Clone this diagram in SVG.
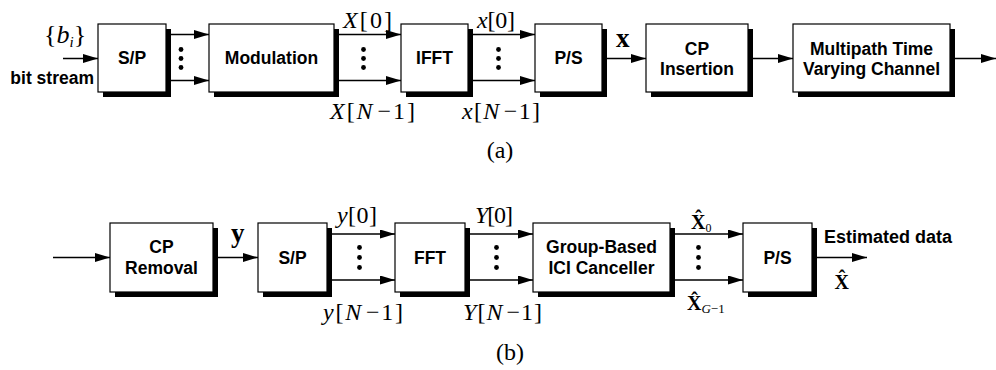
<svg xmlns="http://www.w3.org/2000/svg" width="996" height="370" viewBox="0 0 996 370">
<defs>
<marker id="ah" markerUnits="userSpaceOnUse" markerWidth="15" markerHeight="9" refX="15" refY="4.5" orient="auto">
<path d="M0,0 L15,4.5 L0,9 z" fill="#000"/>
</marker>
<style>
.box{fill:#fff;stroke:#000;stroke-width:1.2}
.sh{fill:#000}
.lbl{font-family:"Liberation Sans",Arial,sans-serif;font-weight:bold;font-size:17.5px;text-anchor:middle;fill:#000}
.side{font-family:"Liberation Sans",Arial,sans-serif;font-weight:bold;font-size:17.5px;fill:#000}
.m{font-family:"Liberation Serif","Times New Roman",serif;font-size:24px;fill:#000}
.mb{font-family:"Liberation Serif","Times New Roman",serif;font-weight:bold;font-size:20px;fill:#000}
.it{font-style:italic}
.conn line{stroke:#000;stroke-width:1.3;marker-end:url(#ah)}
.dot{fill:#000}
</style>
</defs>
<rect width="996" height="370" fill="#fff"/>

<g id="connectors" class="conn">
<line x1="63" y1="58.5" x2="98" y2="58.5"/>
<line x1="166" y1="34.5" x2="209" y2="34.5"/>
<line x1="166" y1="80.5" x2="209" y2="80.5"/>
<line x1="334" y1="34.5" x2="401" y2="34.5"/>
<line x1="334" y1="80.5" x2="401" y2="80.5"/>
<line x1="468" y1="34.5" x2="535" y2="34.5"/>
<line x1="468" y1="80.5" x2="535" y2="80.5"/>
<line x1="602" y1="58.5" x2="646" y2="58.5"/>
<line x1="748" y1="58.5" x2="793" y2="58.5"/>
<line x1="950" y1="58.5" x2="996" y2="58.5"/>

<line x1="53" y1="257.5" x2="110" y2="257.5"/>
<line x1="213" y1="257.5" x2="258" y2="257.5"/>
<line x1="327" y1="234" x2="395" y2="234"/>
<line x1="327" y1="280" x2="395" y2="280"/>
<line x1="465" y1="234" x2="533" y2="234"/>
<line x1="465" y1="280" x2="533" y2="280"/>
<line x1="670" y1="234" x2="743" y2="234"/>
<line x1="670" y1="280" x2="743" y2="280"/>
<line x1="812" y1="257.5" x2="867" y2="257.5"/>
</g>

<g id="dots">
<circle class="dot" cx="181" cy="49.5" r="2.4"/><circle class="dot" cx="181" cy="58.5" r="2.4"/><circle class="dot" cx="181" cy="67.5" r="2.4"/>
<circle class="dot" cx="363.5" cy="49.5" r="2.4"/><circle class="dot" cx="363.5" cy="58.5" r="2.4"/><circle class="dot" cx="363.5" cy="67.5" r="2.4"/>
<circle class="dot" cx="498.5" cy="49.5" r="2.4"/><circle class="dot" cx="498.5" cy="58.5" r="2.4"/><circle class="dot" cx="498.5" cy="67.5" r="2.4"/>
<circle class="dot" cx="359.5" cy="247.5" r="2.4"/><circle class="dot" cx="359.5" cy="257.5" r="2.4"/><circle class="dot" cx="359.5" cy="267.5" r="2.4"/>
<circle class="dot" cx="496.5" cy="247.5" r="2.4"/><circle class="dot" cx="496.5" cy="257.5" r="2.4"/><circle class="dot" cx="496.5" cy="267.5" r="2.4"/>
<circle class="dot" cx="698.5" cy="247.5" r="2.4"/><circle class="dot" cx="698.5" cy="257.5" r="2.4"/><circle class="dot" cx="698.5" cy="267.5" r="2.4"/>
</g>

<!-- top row nodes -->
<g id="sp1"><rect class="sh" x="103" y="29" width="68" height="68"/><rect class="box" x="98" y="24" width="68" height="68"/><text class="lbl" x="132" y="64">S/P</text></g>
<g id="modulation"><rect class="sh" x="214" y="29" width="125" height="68"/><rect class="box" x="209" y="24" width="125" height="68"/><text class="lbl" x="271.5" y="64">Modulation</text></g>
<g id="ifft"><rect class="sh" x="406" y="29" width="67" height="68"/><rect class="box" x="401" y="24" width="67" height="68"/><text class="lbl" x="434.5" y="64">IFFT</text></g>
<g id="ps1"><rect class="sh" x="540" y="29" width="67" height="68"/><rect class="box" x="535" y="24" width="67" height="68"/><text class="lbl" x="568.5" y="64">P/S</text></g>
<g id="cpins"><rect class="sh" x="651" y="29" width="102" height="68"/><rect class="box" x="646" y="24" width="102" height="68"/><text class="lbl" x="697" y="54.5">CP</text><text class="lbl" x="697" y="74.5">Insertion</text></g>
<g id="channel"><rect class="sh" x="798" y="29" width="157" height="68"/><rect class="box" x="793" y="24" width="157" height="68"/><text class="lbl" x="871.5" y="54.5">Multipath Time</text><text class="lbl" x="871.5" y="74.5">Varying Channel</text></g>

<!-- bottom row nodes -->
<g id="cprem"><rect class="sh" x="115" y="228" width="103" height="69"/><rect class="box" x="110" y="223" width="103" height="69"/><text class="lbl" x="161.5" y="253">CP</text><text class="lbl" x="161.5" y="273.5">Removal</text></g>
<g id="sp2"><rect class="sh" x="263" y="228" width="69" height="69"/><rect class="box" x="258" y="223" width="69" height="69"/><text class="lbl" x="292.5" y="263.5">S/P</text></g>
<g id="fft"><rect class="sh" x="400" y="228" width="70" height="69"/><rect class="box" x="395" y="223" width="70" height="69"/><text class="lbl" x="430" y="263.5">FFT</text></g>
<g id="ici"><rect class="sh" x="538" y="228" width="137" height="69"/><rect class="box" x="533" y="223" width="137" height="69"/><text class="lbl" x="601.5" y="253">Group-Based</text><text class="lbl" x="601.5" y="273.5">ICI Canceller</text></g>
<g id="ps2"><rect class="sh" x="748" y="228" width="69" height="69"/><rect class="box" x="743" y="223" width="69" height="69"/><text class="lbl" x="777.5" y="263.5">P/S</text></g>

<!-- labels -->
<g id="labels">
<text class="m" x="44" y="43" style="font-size:26px">{<tspan class="it">b</tspan><tspan class="it" style="font-size:15px" dy="4">i</tspan><tspan dy="-4">}</tspan></text>
<text class="side" x="94" y="83.5" text-anchor="end">bit stream</text>

<text class="m" x="343" y="28" textLength="49" lengthAdjust="spacing"><tspan class="it">X</tspan>[0]</text>
<text class="m" x="330" y="119" textLength="85" lengthAdjust="spacing"><tspan class="it">X</tspan>[<tspan class="it">N</tspan><tspan dx="3">−1]</tspan></text>
<text class="m" x="477" y="28" textLength="38" lengthAdjust="spacing"><tspan class="it">x</tspan>[0]</text>
<text class="m" x="462" y="119" textLength="78" lengthAdjust="spacing"><tspan class="it">x</tspan>[<tspan class="it">N</tspan><tspan dx="3">−1]</tspan></text>
<text class="mb" x="616" y="46.5" style="font-size:27px">x</text>

<text class="m" x="337" y="223" textLength="40" lengthAdjust="spacing"><tspan class="it">y</tspan>[0]</text>
<text class="m" x="323" y="320" textLength="80" lengthAdjust="spacing"><tspan class="it">y</tspan>[<tspan class="it">N</tspan><tspan dx="3">−1]</tspan></text>
<text class="m" x="475" y="223" textLength="38" lengthAdjust="spacing"><tspan class="it">Y</tspan>[0]</text>
<text class="m" x="463" y="320" textLength="79" lengthAdjust="spacing"><tspan class="it">Y</tspan>[<tspan class="it">N</tspan><tspan dx="3">−1]</tspan></text>
<text class="mb" x="231" y="241.5" style="font-size:27px">y</text>

<text class="mb" x="691" y="228.5">X̂<tspan style="font-weight:normal;font-size:12px" dy="3">0</tspan></text>
<text class="mb" x="687" y="310">X̂<tspan style="font-weight:normal;font-size:13px" dy="3"><tspan class="it">G</tspan>−1</tspan></text>
<text class="mb" x="834.5" y="288.5">X̂</text>
<text class="side" x="824" y="242.5" style="font-size:18px">Estimated data</text>

<text class="m" x="500" y="158" text-anchor="middle">(a)</text>
<text class="m" x="510" y="360" text-anchor="middle">(b)</text>
</g>
</svg>
